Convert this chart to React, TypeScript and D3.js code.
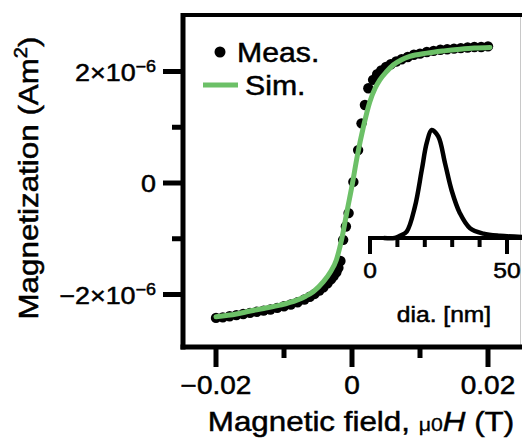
import React, { useEffect, useRef } from 'react';
import * as d3 from 'd3';

// measured loop (field in T, moment in 1e-6 Am^2)
const fieldMeas = [
  -0.02, -0.019, -0.018, -0.017, -0.016, -0.015, -0.014, -0.013, -0.012, -0.011,
  -0.01, -0.009, -0.008, -0.007, -0.0062, -0.0055, -0.0048, -0.0042, -0.0036, -0.0031,
  -0.0027, -0.0023, -0.002, -0.0017, -0.0013, -0.0009, -0.0005, 0.0002, 0.0009, 0.0014,
  0.0019, 0.0024, 0.0031, 0.0037, 0.0043, 0.005, 0.0057, 0.0065, 0.0073, 0.0082,
  0.0091, 0.01, 0.011, 0.012, 0.013, 0.014, 0.015, 0.016, 0.017, 0.018, 0.019, 0.02
];
const momentMeas = [
  -2.42, -2.41, -2.39, -2.37, -2.35, -2.33, -2.31, -2.29, -2.27, -2.24,
  -2.21, -2.18, -2.14, -2.09, -2.04, -1.99, -1.93, -1.87, -1.8, -1.73,
  -1.67, -1.6, -1.52, -1.4, -1.02, -0.78, -0.54, 0.02, 0.59, 1.07,
  1.4, 1.7, 1.85, 1.95, 2.02, 2.08, 2.13, 2.18, 2.22, 2.26,
  2.3, 2.32, 2.35, 2.37, 2.39, 2.4, 2.41, 2.42, 2.43, 2.44, 2.44, 2.45
];

// simulation
const simField = [
  -0.02, -0.017, -0.0155, -0.013, -0.0106, -0.0081, -0.0068, -0.0057, -0.0042, -0.0032,
  -0.0023, -0.0015, -0.0008, 0, 0.0008, 0.0017, 0.0026, 0.0034, 0.0041,
  0.0051, 0.0061, 0.0073, 0.0085, 0.011, 0.0135, 0.0159, 0.018, 0.0203
];
const simMoment = [
  -2.4, -2.35, -2.31, -2.25, -2.19, -2.1, -2.03, -1.95, -1.77, -1.6,
  -1.38, -1.0, -0.55, -0.05, 0.5, 1.02, 1.45, 1.7, 1.85,
  2.0, 2.12, 2.21, 2.27, 2.33, 2.37, 2.4, 2.42, 2.43
];

// inset: size distribution
const diaNm = [5, 9, 10.9, 13.4, 16.4, 18.9, 20.7, 22.5, 24.9, 27.4, 29.8, 32.8, 36.5, 41.4, 47.4, 56];
const diaDist = [0, 0, 0.02, 0.06, 0.29, 0.63, 0.88, 1.0, 0.94, 0.69, 0.44, 0.23, 0.09, 0.04, 0.02, 0.01];

const xTicks = [-0.02, 0, 0.02];
const xTickLabels = ['\u22120.02', '0', '0.02'];
const xMinor = [-0.01, 0.01];
const yTicks = [-2, 0, 2];
const yMinor = [-1, 1];
const insetTicks = [0, 50];
const insetMinor = [10, 20, 30, 40];

const App = () => {
  const ref = useRef<SVGSVGElement>(null);

  useEffect(() => {
    const svg = d3.select(ref.current);
    svg.selectAll('*').remove();
    const font = '"Liberation Sans", Arial, Helvetica, sans-serif';
    const green = '#6cc067';
    const sx = 1.12;

    const x = d3.scaleLinear().domain([-0.02, 0.02]).range([216, 488]);
    const y = d3.scaleLinear().domain([-2, 2]).range([294.5, 71.5]);
    const left = 183, bottom = 347, top = 15;

    const text = (px: number, py: number, size: number, anchor: string) =>
      svg
        .append('text')
        .attr('transform', `translate(${px},${py}) scale(${sx},1)`)
        .attr('font-size', size)
        .attr('font-family', font)
        .attr('text-anchor', anchor)
        .attr('fill', '#000')
        .attr('stroke', '#000')
        .attr('stroke-width', 0.5);

    // frame
    svg.append('line').attr('x1', 520.5).attr('x2', 520.5).attr('y1', top).attr('y2', bottom)
      .attr('stroke', '#c8c8c8').attr('stroke-width', 1);
    svg.append('line').attr('x1', left - 2).attr('x2', 522).attr('y1', top).attr('y2', top)
      .attr('stroke', '#000').attr('stroke-width', 4);

    // measured dots
    svg.append('g')
      .selectAll('circle')
      .data(d3.range(fieldMeas.length))
      .join('circle')
      .attr('cx', (i) => x(fieldMeas[i]))
      .attr('cy', (i) => y(momentMeas[i]))
      .attr('r', 5.2)
      .attr('fill', '#000');

    // simulation line
    const simLine = d3.line<number>()
      .x((i) => x(simField[i]))
      .y((i) => y(simMoment[i]))
      .curve(d3.curveMonotoneX);
    svg.append('path')
      .datum(d3.range(simField.length))
      .attr('d', simLine)
      .attr('fill', 'none')
      .attr('stroke', green)
      .attr('stroke-width', 5)
      .attr('stroke-linecap', 'round');

    // axes
    svg.append('line').attr('x1', left).attr('x2', left).attr('y1', top - 2).attr('y2', bottom + 2.5)
      .attr('stroke', '#000').attr('stroke-width', 5);
    svg.append('line').attr('x1', left - 2.5).attr('x2', 522).attr('y1', bottom).attr('y2', bottom)
      .attr('stroke', '#000').attr('stroke-width', 5);

    xTicks.forEach((t, i) => {
      svg.append('line').attr('x1', x(t)).attr('x2', x(t)).attr('y1', bottom).attr('y2', bottom + 20)
        .attr('stroke', '#000').attr('stroke-width', 5);
      text(x(t), 394, 25, 'middle').text(xTickLabels[i]);
    });
    xMinor.forEach((t) => {
      svg.append('line').attr('x1', x(t)).attr('x2', x(t)).attr('y1', bottom).attr('y2', bottom + 11)
        .attr('stroke', '#000').attr('stroke-width', 5);
    });
    yTicks.forEach((t) => {
      svg.append('line').attr('x1', left - 20).attr('x2', left).attr('y1', y(t)).attr('y2', y(t))
        .attr('stroke', '#000').attr('stroke-width', 5);
      const tx = text(156, y(t) + 9, 24, 'end');
      if (t === 0) {
        tx.text('0');
      } else {
        tx.append('tspan').text(`${t < 0 ? '\u2212' : ''}${Math.abs(t)}\u00d710`);
        tx.append('tspan').attr('dy', -9).attr('font-size', 16).text('\u22126');
      }
    });
    yMinor.forEach((t) => {
      svg.append('line').attr('x1', left - 11).attr('x2', left).attr('y1', y(t)).attr('y2', y(t))
        .attr('stroke', '#000').attr('stroke-width', 5);
    });

    // axis titles
    const xt = text(361, 431, 28, 'middle');
    xt.append('tspan').text('Magnetic field, ');
    xt.append('tspan').attr('font-size', 19).attr('stroke-width', 0.3).text('\u03bc0');
    xt.append('tspan').attr('font-style', 'italic').text('H');
    xt.append('tspan').text(' (T)');

    const yt = svg.append('text')
      .attr('transform', `translate(38,178) rotate(-90) scale(${sx},1)`)
      .attr('font-size', 28)
      .attr('font-family', font)
      .attr('text-anchor', 'middle')
      .attr('stroke', '#000')
      .attr('stroke-width', 0.5);
    yt.append('tspan').text('Magnetization (Am');
    yt.append('tspan').attr('dy', -11).attr('font-size', 18).text('2');
    yt.append('tspan').attr('dy', 11).text(')');

    // legend
    svg.append('circle').attr('cx', 220).attr('cy', 52).attr('r', 5.5).attr('fill', '#000');
    text(237, 62, 27, 'start').text('Meas.');
    svg.append('line').attr('x1', 203).attr('x2', 238).attr('y1', 85).attr('y2', 85)
      .attr('stroke', green).attr('stroke-width', 5);
    text(245, 95, 27, 'start').text('Sim.');

    // inset
    const xi = d3.scaleLinear().domain([0, 50]).range([370, 507]);
    const yi = d3.scaleLinear().domain([0, 1]).range([238, 130]);
    const distLine = d3.line<number>()
      .x((i) => xi(diaNm[i]))
      .y((i) => yi(diaDist[i]))
      .curve(d3.curveCatmullRom.alpha(0.5));
    svg.append('path')
      .datum(d3.range(diaNm.length))
      .attr('d', distLine)
      .attr('fill', 'none')
      .attr('stroke', '#000')
      .attr('stroke-width', 4.5)
      .attr('stroke-linejoin', 'round');
    svg.append('line').attr('x1', xi(0) - 2).attr('x2', 522).attr('y1', 238).attr('y2', 238)
      .attr('stroke', '#000').attr('stroke-width', 4);
    insetTicks.forEach((t) => {
      svg.append('line').attr('x1', xi(t)).attr('x2', xi(t)).attr('y1', 238).attr('y2', 254)
        .attr('stroke', '#000').attr('stroke-width', 4);
      text(xi(t), 278, 22, 'middle').text(String(t));
    });
    insetMinor.forEach((t) => {
      svg.append('line').attr('x1', xi(t)).attr('x2', xi(t)).attr('y1', 238).attr('y2', 247)
        .attr('stroke', '#000').attr('stroke-width', 4);
    });
    text(444, 322, 22, 'middle').text('dia. [nm]');
  }, []);

  return (
    <svg
      ref={ref}
      width={522}
      height={440}
      style={{ position: 'absolute', left: 0, top: 0, background: '#fff' }}
    />
  );
};

export default App;
